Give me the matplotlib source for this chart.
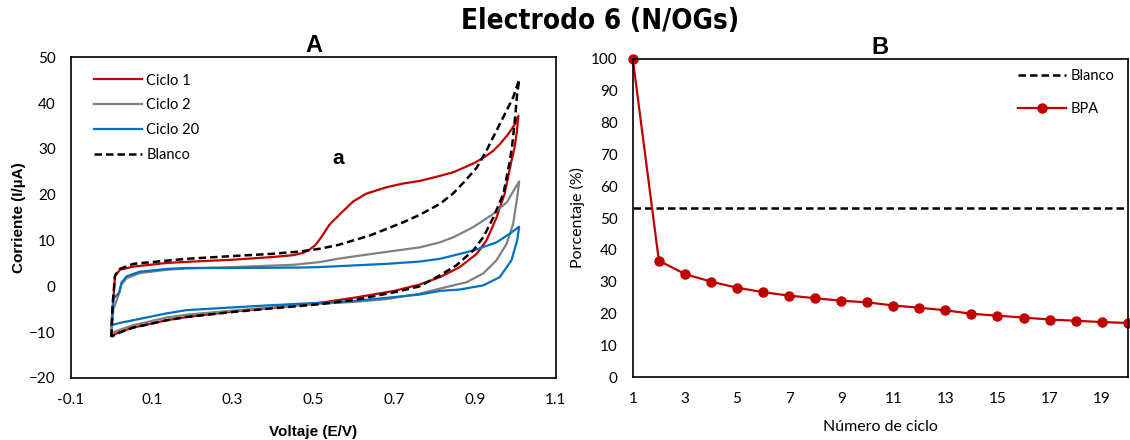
import matplotlib
matplotlib.use("Agg")
import matplotlib.pyplot as plt
import numpy as np

# Voltametrias ciclicas (V en E/V, I en uA): barrido anodico y luego catodico
v_ciclo1 = [0.0, 0.003, 0.009, 0.021, 0.054, 0.137, 0.2, 0.3, 0.4, 0.45, 0.475,
            0.49, 0.505, 0.52, 0.54, 0.566, 0.598, 0.63, 0.68, 0.72, 0.763,
            0.813, 0.846, 0.875, 0.9, 0.925, 0.945, 0.961, 0.98, 0.998, 1.007,
            1.003, 0.997, 0.99, 0.973, 0.953, 0.928, 0.904, 0.862, 0.813, 0.763,
            0.7, 0.6, 0.516, 0.4, 0.3, 0.186, 0.137, 0.054, 0.02, 0.0]
i_ciclo1 = [-10.8, -5.0, 2.2, 3.6, 4.3, 5.1, 5.4, 5.8, 6.4, 6.8, 7.3,
            8.0, 9.0, 10.8, 13.5, 15.8, 18.5, 20.2, 21.6, 22.4, 23.0,
            24.1, 24.9, 26.0, 27.0, 28.3, 29.6, 31.0, 33.0, 35.3, 37.2,
            33.5, 30.0, 27.4, 20.2, 15.0, 10.0, 7.1, 4.2, 2.0, 0.4,
            -1.0, -2.5, -3.6, -4.7, -5.5, -6.7, -7.4, -9.0, -10.0, -10.8]

v_ciclo2 = [0.0, 0.005, 0.019, 0.025, 0.038, 0.071, 0.137, 0.186, 0.3, 0.45,
            0.516, 0.56, 0.598, 0.68, 0.763, 0.813, 0.846, 0.895, 0.945, 0.978,
            1.009,
            1.004, 0.994, 0.978, 0.953, 0.92, 0.879, 0.813, 0.763, 0.68, 0.6,
            0.516, 0.4, 0.3, 0.186, 0.137, 0.054, 0.02, 0.0]
i_ciclo2 = [-10.2, -5.0, -1.6, 0.4, 1.8, 2.9, 3.6, 3.9, 4.2, 4.7,
            5.3, 6.0, 6.5, 7.5, 8.5, 9.6, 10.7, 12.9, 15.8, 18.3,
            22.9,
            19.4, 13.6, 9.3, 5.7, 2.8, 0.9, -0.5, -1.6, -2.8, -3.4,
            -3.8, -4.6, -5.3, -6.2, -6.8, -8.5, -9.5, -10.2]

v_ciclo20 = [0.0, 0.005, 0.019, 0.025, 0.038, 0.071, 0.137, 0.186, 0.3, 0.467,
             0.516, 0.68, 0.763, 0.813, 0.895, 0.953, 0.986, 1.009,
             1.004, 0.99, 0.961, 0.92, 0.862, 0.813, 0.763, 0.6, 0.516, 0.4,
             0.3, 0.186, 0.137, 0.054, 0.02, 0.0]
i_ciclo20 = [-8.5, -2.7, -1.4, 0.8, 2.2, 3.2, 3.8, 4.0, 4.0, 4.1,
             4.2, 4.9, 5.4, 6.0, 7.8, 9.6, 11.5, 13.0,
             10.0, 5.7, 2.0, 0.2, -0.7, -1.0, -1.8, -3.2, -3.6, -4.1,
             -4.6, -5.2, -5.9, -7.4, -8.0, -8.5]

v_blanco = [0.0, 0.003, 0.009, 0.021, 0.054, 0.137, 0.186, 0.3, 0.4, 0.467,
            0.516, 0.56, 0.598, 0.64, 0.68, 0.72, 0.763, 0.813, 0.846, 0.871,
            0.904, 0.928, 0.961, 0.994, 1.009,
            1.004, 0.998, 0.992, 0.986, 0.97, 0.945, 0.92, 0.895, 0.854, 0.813,
            0.763, 0.7, 0.6, 0.516, 0.4, 0.3, 0.186, 0.137, 0.054, 0.02, 0.0]
i_blanco = [-11.0, -4.0, 2.4, 3.8, 4.9, 5.6, 6.0, 6.6, 7.1, 7.6,
            8.2, 9.0, 10.0, 11.1, 12.5, 13.9, 15.6, 18.0, 20.3, 22.6,
            25.9, 29.6, 35.4, 41.2, 45.1,
            42.0, 36.0, 31.0, 27.4, 20.2, 15.0, 10.7, 7.8, 4.6, 2.4,
            0.0, -1.3, -3.0, -3.9, -4.8, -5.6, -6.7, -7.4, -9.0, -10.1, -11.0]

# Porcentaje de senal por ciclo
ciclos = list(range(1, 21))
bpa = [100, 36.6, 32.4, 30.0, 28.1, 26.7, 25.6, 24.8, 24.0, 23.5,
       22.5, 21.8, 21.0, 19.9, 19.3, 18.7, 18.1, 17.7, 17.3, 17.0]
blanco_pct = 53.2

ROJO = "#C00000"
GRIS = "#808080"
AZUL = "#0070C0"

tick_font = ["Lato", "DejaVu Sans"]
bold_font = ["Liberation Sans", "DejaVu Sans"]
narrow_font = ["Liberation Sans Narrow", "DejaVu Sans"]

fig = plt.figure(figsize=(11.3, 4.4), dpi=100)
axA = fig.add_axes([0.0628, 0.141, 0.4292, 0.729])
axB = fig.add_axes([0.560, 0.143, 0.438, 0.723])

# Panel A
axA.plot(v_ciclo1, i_ciclo1, color=ROJO, lw=1.6, label="Ciclo 1")
axA.plot(v_ciclo2, i_ciclo2, color=GRIS, lw=1.6, label="Ciclo 2")
axA.plot(v_ciclo20, i_ciclo20, color=AZUL, lw=1.6, label="Ciclo 20")
axA.plot(v_blanco, i_blanco, color="black", lw=1.8, ls=(0, (3, 1.6)), label="Blanco")
axA.set_xlim(-0.1, 1.1)
axA.set_ylim(-20, 50)
axA.set_xticks(np.arange(-0.1, 1.11, 0.2))
axA.set_xticklabels(["-0.1", "0.1", "0.3", "0.5", "0.7", "0.9", "1.1"])
axA.set_yticks(range(-20, 51, 10))
axA.set_xlabel("Voltaje (E/V)", fontsize=11, fontweight="bold", family=bold_font, labelpad=13)
axA.set_ylabel("Corriente (I/µA)", fontsize=11, fontweight="bold", family=bold_font, labelpad=2)
axA.set_title("A", fontsize=17, fontweight="bold", family=bold_font, pad=2)
axA.text(0.56, 28, "a", fontsize=15, fontweight="bold", family=bold_font, ha="center", va="center")
axA.legend(loc="upper left", frameon=False, prop={"family": tick_font, "size": 10.5},
           handlelength=3.3, handletextpad=0.3, labelspacing=0.75,
           bbox_to_anchor=(0.02, 0.99))

# Panel B
axB.axhline(blanco_pct, color="black", lw=1.8, ls=(0, (3, 1.6)), label="Blanco")
axB.plot(ciclos, bpa, color=ROJO, lw=1.6, marker="o", ms=6.5, label="BPA", clip_on=False)
axB.set_xlim(1, 20)
axB.set_ylim(0, 100)
axB.set_xticks(range(1, 20, 2))
axB.set_yticks(range(0, 101, 10))
axB.set_xlabel("Número de ciclo", fontsize=11.5, family=tick_font, labelpad=10)
axB.set_ylabel("Porcentaje (%)", fontsize=11.5, family=tick_font, labelpad=4)
axB.set_title("B", fontsize=17, fontweight="bold", family=bold_font, pad=2)
axB.legend(loc="upper right", frameon=False, prop={"family": tick_font, "size": 10.5},
           handlelength=3.3, handletextpad=0.3, labelspacing=1.3,
           bbox_to_anchor=(1.0, 1.01))

for ax in (axA, axB):
    ax.tick_params(length=0, labelsize=11, pad=11)
    for lbl in ax.get_xticklabels() + ax.get_yticklabels():
        lbl.set_family(tick_font)
    for sp in ax.spines.values():
        sp.set_linewidth(1.2)
        sp.set_color("black")

fig.text(0.531, 0.952, "Electrodo 6 (N/OGs)", fontsize=20, fontweight="bold",
         fontstretch="condensed", family=narrow_font, ha="center", va="center")

fig.savefig("out.png", dpi=100)
